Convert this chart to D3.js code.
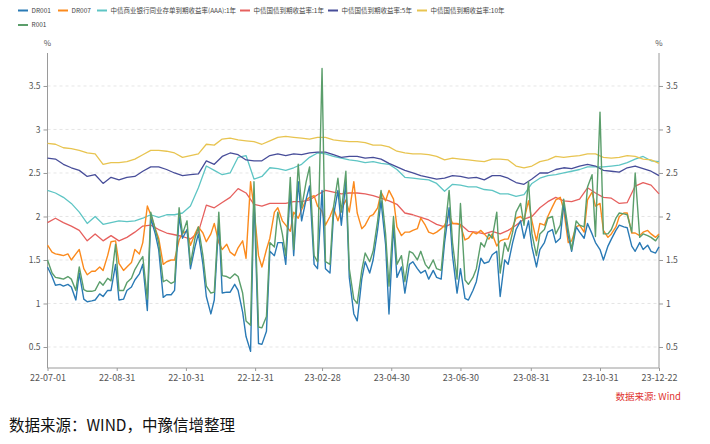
<!DOCTYPE html>
<html><head><meta charset="utf-8">
<script src="https://cdn.jsdelivr.net/npm/d3@7"></script>
<style>
html,body{margin:0;padding:0;background:#fff;}
svg{display:block;}
</style></head>
<body>
<svg id="c" width="710" height="444"></svg>
<script>
// ---------- data ----------
const startDate = "2022-07-01";
const endDate = "2023-12-22";
const xTickLabels = ["22-07-01","22-08-31","22-10-31","22-12-31","23-02-28","23-04-30","23-06-30","23-08-31","23-10-31","23-12-22"];
const yTicks = [0.5, 1, 1.5, 2, 2.5, 3, 3.5];
const seriesNames = ["DR001","DR007","中债商业银行同业存单到期收益率(AAA):1年","中债国债到期收益率:1年","中债国债到期收益率:5年","中债国债到期收益率:10年","R001"];

// weekly observations (every Friday from 2022-07-01)
const gz10 = [2.84,2.83,2.79,2.78,2.76,2.73,2.72,2.60,2.62,2.62,2.63,2.66,2.71,
2.76,2.76,2.75,2.73,2.68,2.70,2.72,2.83,2.82,2.89,2.90,2.88,2.87,
2.86,2.83,2.87,2.91,2.92,2.91,2.90,2.89,2.91,2.91,2.88,2.87,2.86,
2.86,2.85,2.82,2.82,2.80,2.75,2.73,2.72,2.72,2.71,2.69,2.65,2.67,
2.66,2.65,2.64,2.63,2.66,2.66,2.65,2.58,2.56,2.58,2.63,2.65,
2.69,2.68,2.69,2.70,2.72,2.72,2.68,2.67,2.68,2.70,2.69,2.66,2.65,2.61];
const gz5 = [2.67,2.66,2.60,2.56,2.53,2.46,2.48,2.38,2.45,2.42,2.45,2.46,2.52,
2.57,2.57,2.54,2.50,2.47,2.48,2.49,2.64,2.60,2.69,2.73,2.71,2.65,
2.64,2.64,2.70,2.72,2.70,2.72,2.71,2.73,2.74,2.74,2.71,2.68,2.69,
2.69,2.67,2.68,2.66,2.61,2.57,2.53,2.50,2.47,2.45,2.43,2.44,2.47,
2.46,2.44,2.45,2.42,2.47,2.47,2.44,2.39,2.37,2.43,2.50,2.50,
2.54,2.56,2.55,2.58,2.60,2.58,2.53,2.52,2.51,2.56,2.58,2.55,2.52,2.47];
const ncd1 = [2.30,2.27,2.22,2.15,2.05,1.92,2.00,1.91,1.93,1.95,1.94,1.95,1.98,
2.02,1.99,2.02,2.02,2.04,2.12,2.33,2.58,2.53,2.48,2.50,2.68,2.70,
2.43,2.46,2.56,2.55,2.53,2.56,2.60,2.68,2.73,2.72,2.69,2.67,2.65,
2.64,2.62,2.63,2.61,2.60,2.54,2.45,2.44,2.43,2.42,2.38,2.29,2.37,
2.36,2.34,2.34,2.31,2.30,2.26,2.26,2.23,2.25,2.38,2.44,2.47,
2.48,2.50,2.52,2.54,2.57,2.57,2.57,2.58,2.59,2.62,2.66,2.69,2.64,2.63];
const gz1 = [1.93,1.98,1.93,1.89,1.84,1.72,1.80,1.72,1.78,1.72,1.76,1.82,1.89,
1.90,1.85,1.81,1.79,1.77,1.74,1.82,2.13,2.10,2.16,2.22,2.32,2.27,
2.14,2.12,2.15,2.15,2.15,2.17,2.17,2.19,2.25,2.30,2.28,2.26,2.27,
2.27,2.26,2.24,2.21,2.18,2.14,2.04,2.02,1.99,1.96,1.91,1.88,1.92,
1.91,1.83,1.82,1.80,1.83,1.80,1.84,1.90,1.97,2.00,2.10,2.17,
2.22,2.18,2.17,2.20,2.33,2.27,2.22,2.21,2.15,2.16,2.35,2.39,2.36,2.26];

// twice-weekly observations (Fri / Tue)
const dr001 = [1.42,1.31,1.21,1.22,1.20,1.22,1.19,1.04,1.35,1.05,1.02,1.03,1.04,1.11,1.08,1.15,1.15,1.45,1.04,1.05,1.15,1.19,1.27,1.34,1.45,0.92,
1.98,1.80,1.62,1.07,1.10,1.10,1.15,2.00,1.75,1.85,1.40,1.65,1.80,1.45,1.08,0.88,1.04,1.95,1.12,1.13,1.13,1.22,1.15,0.90,0.62,0.45,
2.25,0.54,0.53,0.68,1.60,1.55,1.70,1.70,1.45,2.30,1.55,2.40,1.95,2.20,2.35,1.45,1.40,2.30,1.40,1.35,2.00,2.30,1.90,2.40,1.30,0.88,
0.80,1.28,1.48,1.35,1.50,1.85,2.18,1.68,0.88,1.90,1.30,1.42,1.12,1.45,1.48,1.40,1.35,1.38,1.28,1.38,1.30,1.28,1.70,2.10,1.55,
1.12,1.40,1.06,1.04,1.15,1.25,1.52,1.46,1.48,1.56,1.60,1.08,1.50,1.45,1.70,1.85,1.95,1.75,1.95,1.65,1.42,1.62,1.70,1.82,1.85,
1.70,1.75,2.15,1.78,1.60,1.88,1.82,1.75,1.92,1.80,1.70,1.62,1.50,1.66,1.74,1.84,1.90,1.88,1.87,1.66,1.60,1.70,1.62,1.67,1.60,1.58,1.65];
const r001 = [1.50,1.35,1.30,1.29,1.28,1.31,1.28,1.15,1.42,1.16,1.14,1.14,1.15,1.25,1.21,1.29,1.26,1.68,1.15,1.15,1.24,1.29,1.39,1.48,1.54,1.05,
2.05,1.85,1.70,1.25,1.27,1.23,1.25,2.10,1.80,1.95,1.45,1.75,1.88,1.55,1.20,1.12,1.13,2.05,1.32,1.31,1.29,1.34,1.31,1.12,0.80,0.75,
2.40,0.73,0.72,0.85,1.70,1.65,2.05,1.80,1.55,2.45,1.62,2.60,2.10,2.40,2.57,1.55,1.48,3.70,1.48,1.45,2.10,2.44,2.05,2.52,1.40,1.05,
1.00,1.38,1.58,1.48,1.60,1.95,2.30,1.80,1.20,2.00,1.45,1.55,1.25,1.60,1.58,1.50,1.60,1.45,1.40,1.50,1.40,1.38,1.80,2.30,1.70,
1.28,2.15,1.27,1.22,1.30,1.40,1.70,1.65,1.80,1.75,2.05,1.35,1.70,1.60,1.82,2.05,2.15,1.90,2.40,1.80,1.55,1.80,1.85,1.98,2.00,
1.80,1.90,2.20,1.85,1.62,1.95,1.90,1.88,2.34,2.48,1.77,3.20,1.80,1.80,1.85,1.98,2.04,2.03,2.02,1.82,2.50,1.76,1.80,1.78,1.76,1.72,1.78];
const dr007 = [1.67,1.59,1.57,1.56,1.55,1.57,1.50,1.57,1.62,1.40,1.33,1.37,1.37,1.42,1.38,1.55,1.71,1.72,1.46,1.38,1.42,1.47,1.62,1.57,1.70,2.12,
2.02,1.86,1.75,1.45,1.48,1.50,1.50,1.73,1.81,1.83,1.67,1.80,1.88,1.81,1.71,1.80,1.92,1.70,1.62,1.68,1.59,1.55,1.64,1.72,1.52,2.40,
2.10,1.55,1.42,1.62,1.75,2.05,2.10,1.95,1.90,1.83,2.05,1.98,2.08,2.19,2.22,2.24,2.12,2.06,1.90,2.00,2.10,1.95,2.08,2.19,2.05,2.40,
2.04,1.86,1.90,2.00,2.02,2.10,2.28,2.18,2.30,2.20,1.88,1.78,1.82,1.82,1.84,1.86,1.98,1.90,1.82,1.80,1.82,1.86,1.90,2.02,1.92,
1.92,1.90,1.73,1.75,1.82,1.80,1.84,1.80,1.74,1.80,1.66,1.72,1.74,1.74,1.88,1.98,2.00,1.96,2.18,1.95,1.72,1.92,1.90,2.00,2.11,
2.19,2.22,2.08,1.70,1.72,1.88,1.90,1.82,2.19,2.28,2.12,2.15,1.84,1.76,1.80,1.88,2.00,2.04,2.04,1.81,1.81,1.78,1.82,1.84,1.80,1.76,1.80];

// ---------- dates ----------
const parse = d3.timeParse("%Y-%m-%d");
const t0 = parse(startDate), t1 = parse(endDate);
const weekDates = gz10.map((_, i) => d3.timeDay.offset(t0, 7 * i));
const halfWeekDates = [];
for (let k = 0; halfWeekDates.length < dr001.length; k++) {
  halfWeekDates.push(d3.timeDay.offset(t0, 7 * k));
  if (halfWeekDates.length < dr001.length) halfWeekDates.push(d3.timeDay.offset(t0, 7 * k + 4));
}
const tickDates = xTickLabels.map(s => d3.timeParse("%y-%m-%d")(s));

// ---------- layout ----------
const svg = d3.select("#c");
const L = 47.5, R = 659, T = 53, B = 368;
const x = d3.scaleTime().domain([t0, t1]).range([L, R]);
const y = d3.scaleLinear().domain([0.2586, 3.879]).range([B, T]);

const colors = ["#2a7ab5","#fb8a1d","#5ec5c4","#e6605e","#474d99","#e8c450","#5b9e6b"];
const fontUI = "'Noto Sans CJK SC','Noto Sans',sans-serif";

// gridlines
svg.append("g").selectAll("line").data(yTicks).join("line")
  .attr("x1", L).attr("x2", R).attr("y1", d => y(d)).attr("y2", d => y(d))
  .attr("stroke", "#dedede").attr("stroke-width", 0.8).attr("stroke-dasharray", "3,3");

// axes
const axisColor = "#9a9a9a";
const gl = svg.append("g").attr("transform", `translate(${L},0)`)
  .call(d3.axisLeft(y).tickValues(yTicks).tickSize(4).tickPadding(3).tickFormat(d3.format("")));
const gr = svg.append("g").attr("transform", `translate(${R},0)`)
  .call(d3.axisRight(y).tickValues(yTicks).tickSize(4).tickPadding(3).tickFormat(d3.format("")));
const gx = svg.append("g").attr("transform", `translate(0,${B})`)
  .call(d3.axisBottom(x).tickValues(tickDates).tickSize(3).tickPadding(4).tickFormat(d3.timeFormat("%y-%m-%d")));
[gl, gr, gx].forEach(g => {
  g.select(".domain").attr("stroke", axisColor).attr("stroke-width", 1);
  g.selectAll(".tick line").attr("stroke", axisColor);
  g.selectAll(".tick text").attr("fill", "#555").attr("font-family", fontUI).attr("font-size", 8.5);
});
gx.selectAll(".tick text").attr("font-size", 9);
// extend left / right axis lines to full height
gl.select(".domain").attr("d", `M0,${B}V${T}`);
gr.select(".domain").attr("d", `M0,${B}V${T}`);
gx.select(".domain").attr("d", `M${L},0H${R}`);

// unit labels
svg.append("text").attr("x", L).attr("y", 46).attr("text-anchor", "middle")
  .attr("font-size", 8).attr("fill", "#555").attr("font-family", fontUI).text("%");
svg.append("text").attr("x", R).attr("y", 46).attr("text-anchor", "middle")
  .attr("font-size", 8).attr("fill", "#555").attr("font-family", fontUI).text("%");

// lines
const line = d3.line().x(d => x(d[0])).y(d => y(d[1]));
const seriesData = [
  [halfWeekDates, dr001], [halfWeekDates, dr007], [weekDates, ncd1],
  [weekDates, gz1], [weekDates, gz5], [weekDates, gz10], [halfWeekDates, r001]
];
const drawOrder = [2, 3, 4, 5, 1, 0, 6];
const plot = svg.append("g");
drawOrder.forEach(i => {
  const [ds, vs] = seriesData[i];
  plot.append("path").datum(ds.map((d, j) => [d, vs[j]]))
    .attr("fill", "none").attr("stroke", colors[i])
    .attr("stroke-width", i === 0 || i === 1 || i === 6 ? 1.4 : 1.3)
    .attr("stroke-linejoin", "round")
    .attr("d", line);
});

// legend
const legendPos = [[18,10.5],[58,10.5],[97,10.5],[240,10.5],[328,10.5],[417,10.5],[18,25]];
const lg = svg.append("g");
seriesNames.forEach((n, i) => {
  const [lx, ly] = legendPos[i];
  lg.append("line").attr("x1", lx).attr("x2", lx + 10).attr("y1", ly).attr("y2", ly)
    .attr("stroke", colors[i]).attr("stroke-width", 2);
  lg.append("text").attr("x", lx + 13.5).attr("y", ly + 2.4)
    .attr("font-size", 6.5).attr("fill", "#444").attr("font-family", fontUI).text(n);
});

// source notes
svg.append("text").attr("x", 681).attr("y", 399.5).attr("text-anchor", "end")
  .attr("font-size", 9.5).attr("fill", "#e0332f").attr("font-family", fontUI).text("数据来源: Wind");
svg.append("text").attr("x", 9).attr("y", 431)
  .attr("font-size", 15.5).attr("fill", "#111").attr("font-family", fontUI).text("数据来源：WIND，中豫信增整理");
</script>
</body></html>
